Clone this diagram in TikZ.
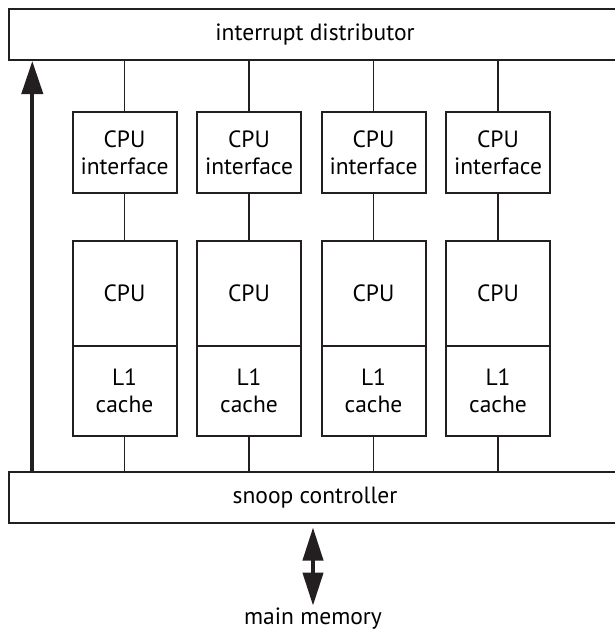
\documentclass[tikz,border=0pt]{standalone}
\usepackage{fontspec}
\setmainfont{PT Sans}
\usetikzlibrary{arrows.meta}
\definecolor{ink}{HTML}{231F20}

\begin{document}
\begin{tikzpicture}[x=1pt,y=-1pt,
  font=\fontsize{23.5}{27}\selectfont,
  box/.style={draw=ink,line width=2pt,align=center,inner sep=0pt},
  bar/.style={box,minimum width=612pt,minimum height=51pt},
  ifbox/.style={box,minimum width=104pt,minimum height=81pt},
  cpubox/.style={box,minimum width=104pt,minimum height=105pt},
  cachebox/.style={box,minimum width=104pt,minimum height=90pt},
  wire/.style={draw=ink,line width=1.6pt},
  fat/.style={draw=ink,line width=4pt}]
\useasboundingbox (0,0) rectangle (614,630);

\node[bar] (dist) at (315,34.5) {interrupt distributor};
\node[bar] (snoop) at (315,497.5) {snoop controller};
\node[inner sep=0pt,anchor=base] (mem) at (313,624) {main memory};

\node[ifbox] (if1) at (124.5,152.5) {CPU\\interface};
\node[ifbox] (if2) at (249,152.5) {CPU\\interface};
\node[ifbox] (if3) at (373.5,152.5) {CPU\\interface};
\node[ifbox] (if4) at (498,152.5) {CPU\\interface};

\node[cpubox] (cpu1) at (124.5,293.5) {CPU};
\node[cpubox] (cpu2) at (249,293.5) {CPU};
\node[cpubox] (cpu3) at (373.5,293.5) {CPU};
\node[cpubox] (cpu4) at (498,293.5) {CPU};

\node[cachebox] (l1a) at (124.5,391) {L1\\cache};
\node[cachebox] (l1b) at (249,391) {L1\\cache};
\node[cachebox] (l1c) at (373.5,391) {L1\\cache};
\node[cachebox] (l1d) at (498,391) {L1\\cache};

\draw[wire] (if1.north) -- (if1.north |- dist.south);
\draw[wire] (if2.north) -- (if2.north |- dist.south);
\draw[wire] (if3.north) -- (if3.north |- dist.south);
\draw[wire] (if4.north) -- (if4.north |- dist.south);

\draw[wire] (if1) -- (cpu1);
\draw[wire] (if2) -- (cpu2);
\draw[wire] (if3) -- (cpu3);
\draw[wire] (if4) -- (cpu4);

\draw[wire] (l1a.south) -- (l1a.south |- snoop.north);
\draw[wire] (l1b.south) -- (l1b.south |- snoop.north);
\draw[wire] (l1c.south) -- (l1c.south |- snoop.north);
\draw[wire] (l1d.south) -- (l1d.south |- snoop.north);

% interrupts back up to the distributor
\coordinate (up) at (32.3,0);
\draw[fat,-{Triangle[length=33pt,width=21pt]}] (up |- snoop.north) -- (up |- dist.south);

% snoop controller <-> main memory
\draw[fat,{Triangle[length=33pt,width=20pt]}-{Triangle[length=33pt,width=20pt]},
  shorten <=3.5pt,shorten >=1.5pt] (mem |- snoop.south) -- (mem.north);
\end{tikzpicture}
\end{document}
